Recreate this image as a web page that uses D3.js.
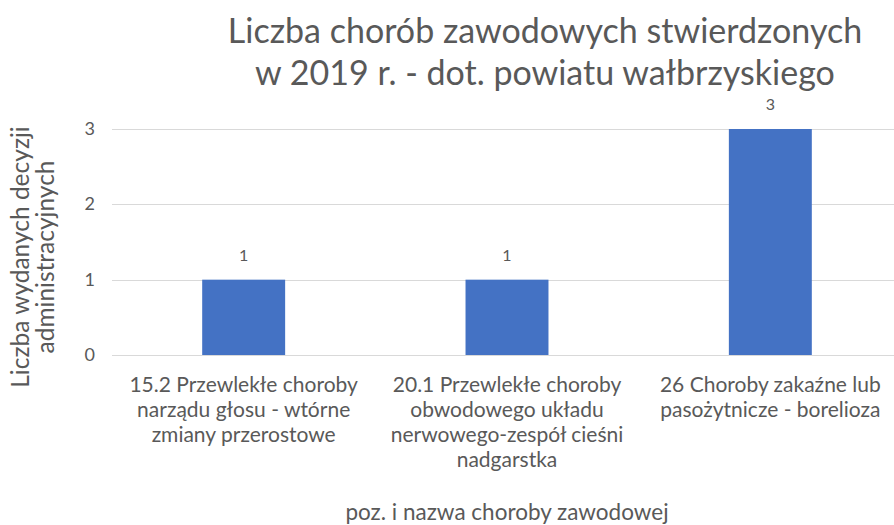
<!DOCTYPE html>
<html>
<head>
<meta charset="utf-8">
<script src="https://cdn.jsdelivr.net/npm/d3@7"></script>
<style>
  body { margin: 0; background: #fff; }
  text { font-family: Lato, "Open Sans", sans-serif; fill: #595959; }
</style>
</head>
<body>
<script>
// Chart data.
var categories = ["15.2", "20.1", "26"];
var categoryLines = [
    ["15.2 Przewlekłe choroby", "narządu głosu - wtórne", "zmiany przerostowe"],
    ["20.1 Przewlekłe choroby", "obwodowego układu", "nerwowego-zespół cieśni", "nadgarstka"],
    ["26 Choroby zakaźne lub", "pasożytnicze - borelioza"]
];
var values = [1, 1, 3];
var yTicks = [0, 1, 2, 3];
var titleLines = ["Liczba chorób zawodowych stwierdzonych", "w 2019 r. - dot. powiatu wałbrzyskiego"];
var yTitleLines = ["Liczba wydanych decyzji", "administracyjnych"];
var xTitle = "poz. i nazwa choroby zawodowej";

var svg_width = 894;
var svg_height = 525;

var svg = d3.select("body").append("svg")
    .attr("width", svg_width)
    .attr("height", svg_height);

// plot area
var plotLeft = 112, plotRight = 902, plotTop = 129, plotBottom = 355;

var x = d3.scaleBand()
    .domain(categories)
    .range([plotLeft, plotRight])
    .paddingInner(0.685)
    .paddingOuter(0.3425);

var y = d3.scaleLinear()
    .domain([0, 3])
    .range([plotBottom, plotTop]);

// gridlines
svg.append("g")
    .selectAll("line")
    .data(yTicks)
    .enter()
    .append("line")
    .attr("x1", plotLeft)
    .attr("x2", svg_width)
    .attr("y1", function (d) { return Math.round(y(d)) + 0.5; })
    .attr("y2", function (d) { return Math.round(y(d)) + 0.5; })
    .attr("stroke", "#d9d9d9")
    .attr("stroke-width", 1);

// y tick labels
svg.append("g")
    .selectAll("text")
    .data(yTicks)
    .enter()
    .append("text")
    .attr("x", 95)
    .attr("y", function (d) { return y(d) + 6; })
    .attr("text-anchor", "end")
    .attr("font-size", "18px")
    .text(function (d) { return d; });

// bars
svg.append("g")
    .selectAll("rect")
    .data(values)
    .enter()
    .append("rect")
    .attr("x", function (d, i) { return x(categories[i]); })
    .attr("y", function (d) { return y(d); })
    .attr("width", x.bandwidth())
    .attr("height", function (d) { return y(0) - y(d); })
    .attr("fill", "#4472C4");

// data labels
svg.append("g")
    .selectAll("text")
    .data(values)
    .enter()
    .append("text")
    .attr("x", function (d, i) { return x(categories[i]) + x.bandwidth() / 2; })
    .attr("y", function (d) { return y(d) - 19; })
    .attr("text-anchor", "middle")
    .attr("font-size", "16px")
    .attr("fill", "#404040")
    .text(function (d) { return d; });

// category labels
var catG = svg.append("g")
    .selectAll("text")
    .data(categoryLines)
    .enter()
    .append("text")
    .attr("text-anchor", "middle")
    .attr("font-size", "21px");
catG.each(function (lines, i) {
    var cx = x(categories[i]) + x.bandwidth() / 2;
    d3.select(this).selectAll("tspan")
        .data(lines)
        .enter()
        .append("tspan")
        .attr("x", cx)
        .attr("y", function (d, j) { return 392 + j * 25; })
        .text(function (d) { return d; });
});

// x axis title
svg.append("text")
    .attr("x", 507)
    .attr("y", 520)
    .attr("text-anchor", "middle")
    .attr("font-size", "22.5px")
    .text(xTitle);

// y axis title
svg.append("g")
    .attr("transform", "translate(0, 257) rotate(-90)")
    .selectAll("text")
    .data(yTitleLines)
    .enter()
    .append("text")
    .attr("x", 0)
    .attr("y", function (d, i) { return 29 + i * 25; })
    .attr("text-anchor", "middle")
    .attr("font-size", "24.5px")
    .text(function (d) { return d; });

// title
svg.append("g")
    .selectAll("text")
    .data(titleLines)
    .enter()
    .append("text")
    .attr("x", 545)
    .attr("y", function (d, i) { return 43 + i * 42; })
    .attr("text-anchor", "middle")
    .attr("font-size", "34px")
    .text(function (d) { return d; });
</script>
</body>
</html>
